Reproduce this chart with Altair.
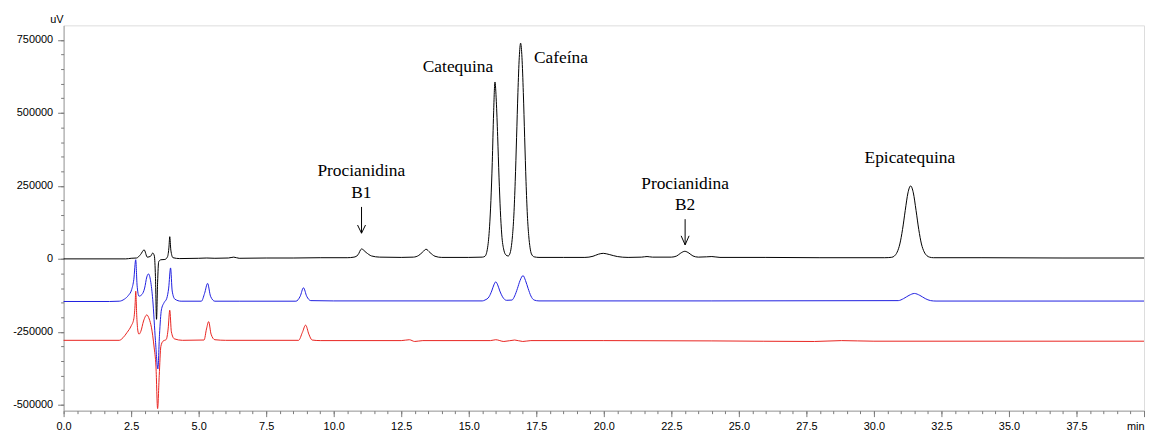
import altair as alt
import pandas as pd

# ---- traces (time in min, signal in uV) ----
BLACK_T = [0, 2.3, 2.5, 2.7, 2.85, 2.98, 3.1, 3.22, 3.3, 3.36, 3.40, 3.44, 3.48, 3.52, 3.6, 3.75, 3.85, 3.9, 3.93, 3.97, 4.05, 4.3,
           5.0, 5.3, 5.6, 6.1, 6.3, 6.5, 7.5, 8.5, 9.5, 10.5, 10.75, 10.9, 11.03, 11.2, 11.4, 11.7, 12.5,
           12.95, 13.15, 13.3, 13.42, 13.56, 13.75, 14.0, 15.0, 15.5,
           15.6, 15.7, 15.77, 15.82, 15.87, 15.92, 15.97, 16.02, 16.07, 16.12, 16.17, 16.22, 16.3, 16.38, 16.46,
           16.52, 16.57, 16.62, 16.67, 16.72, 16.77, 16.82, 16.87, 16.92, 16.97, 17.02, 17.07, 17.12, 17.17,
           17.22, 17.27, 17.32, 17.42, 17.6, 18.5, 19.3, 19.6, 19.8, 19.98, 20.2, 20.5, 20.9, 21.4, 21.6, 21.8,
           22.5, 22.7, 22.85, 23.0, 23.15, 23.3, 23.5, 23.8, 24.0, 24.3, 26.0, 28.0, 30.4,
           30.66, 30.76, 30.86, 30.96, 31.06, 31.16, 31.26, 31.36, 31.46, 31.56, 31.66, 31.76, 31.86, 31.96,
           32.06, 32.2, 34.0, 37.0, 40.0]
BLACK_V = [0, 0, 2000, 3000, 15000, 31000, 6000, 9000, 20000, 10000, -60000, -207000, -80000, -10000, -3000, -2000, 8000, 40000, 76000, 30000, 4000, 1000,
           2000, 3000, 2000, 3000, 6000, 2000, 3000, 3000, 4000, 4000, 6000, 14000, 34000, 22000, 10000, 6000, 5000,
           6000, 12000, 24000, 33000, 22000, 9000, 5000, 5000, 6000,
           9000, 40000, 110000, 200000, 330000, 500000, 606000, 540000, 420000, 280000, 165000, 85000, 30000, 13000, 10000,
           17000, 38000, 80000, 150000, 265000, 415000, 570000, 690000, 739000, 690000, 570000, 415000, 265000, 150000,
           80000, 38000, 17000, 7000, 5000, 5000, 5000, 9000, 16000, 19000, 15000, 8000, 5000, 6000, 8000, 6000,
           6000, 10000, 20000, 26000, 20000, 10000, 6000, 7000, 8000, 5000, 5000, 4000, 4000,
           5500, 10000, 23000, 51000, 101000, 166000, 226000, 250000, 226000, 166000, 101000, 51000, 24000, 11000,
           6000, 4000, 4000, 3000, 3000]

BLUE_T = [0, 1.7, 2.06, 2.25, 2.4, 2.52, 2.6, 2.67, 2.72, 2.79, 2.9, 3.0, 3.08, 3.14, 3.22, 3.3, 3.4, 3.49, 3.55, 3.62,
          3.72, 3.82, 3.89, 3.96, 4.02, 4.12, 4.35, 5.1, 5.22, 5.33, 5.44, 5.6, 6.5, 8.6, 8.76, 8.88, 9.0, 9.15,
          10.0, 15.5, 15.6, 15.75, 15.85, 15.93, 16.0, 16.07, 16.15, 16.25, 16.4, 16.6, 16.7, 16.8, 16.9, 17.01,
          17.1, 17.2, 17.3, 17.42, 17.6, 24.0, 30.9, 31.1, 31.3, 31.5, 31.7, 31.9, 32.1, 32.3, 40.0]
BLUE_V = [-146000, -146000, -145000, -138000, -125000, -105000, -70000, -3000, -90000, -127700, -122000, -100000, -62000, -51500, -75000, -140000, -280000, -377000, -260000, -175000,
          -150000, -135000, -100000, -31000, -110000, -138000, -145000, -145000, -118000, -84000, -128000, -145000, -145000, -145000, -128000, -99000, -128000, -143000,
          -144000, -144000, -141000, -130000, -110000, -89000, -78700, -89000, -110000, -130000, -142000, -141000, -127000, -102000, -74000, -57300,
          -74000, -102000, -127000, -141000, -144000, -144000, -143000, -136000, -125000, -118500, -125000, -136000, -143000, -144500, -144500]

RED_T = [0, 2.06, 2.2, 2.35, 2.5, 2.6, 2.65, 2.67, 2.71, 2.75, 2.79, 2.86, 2.96, 3.08, 3.17, 3.25, 3.35, 3.42, 3.48, 3.54,
         3.6, 3.68, 3.8, 3.87, 3.93, 3.99, 4.1, 4.4, 5.2, 5.29, 5.37, 5.46, 5.6, 6.0, 8.7, 8.84, 8.96, 9.08, 9.2,
         9.5, 12.5, 12.8, 13.0, 13.3, 15.8, 16.0, 16.3, 16.7, 17.0, 17.3, 20.0, 24.0, 27.8, 28.8, 30.0, 40.0]
RED_V = [-279000, -279000, -270000, -252000, -230000, -205000, -150000, -110700, -200000, -247000, -258000, -248000, -212800, -192000, -206000, -234000, -302000, -370000, -513000, -400000,
         -300000, -282000, -276000, -240000, -176000, -250000, -274000, -279000, -278000, -240000, -215000, -258000, -277000, -279000, -279000, -252000, -227000, -258000, -278000,
         -280000, -280000, -277000, -283000, -280000, -280000, -277000, -283000, -278000, -283000, -280000, -280000, -281000, -283000, -280000, -282000, -282000]

# ---- annotations ----
LABEL_TEXT = ["Catequina", "Cafeína", "Procianidina", "B1", "Procianidina", "B2", "Epicatequina"]
LABEL_T = [14.6, 18.41, 11.02, 11.02, 23.01, 23.01, 31.33]
LABEL_V = [641000, 672000, 283000, 209000, 241000, 167000, 328000]

ARROW_T = [11.03, 23.01]
ARROW_TOP = [178000, 136000]
ARROW_TIP = [88000, 48000]
ARROW_WING = [116000, 79000]
WING_DT = 0.147

# ---- axis ticks ----
X_MAJOR = [i * 2.5 for i in range(0, 17)]
X_MINOR = [i * 0.5 for i in range(0, 81)]
Y_MAJOR = [-500000, -250000, 0, 250000, 500000, 750000]
Y_MINOR = [-500000 + i * 50000 for i in range(0, 26)]

FRAME = "#a0a0a0"
TICK = "#7a7a7a"
FONT = "Liberation Sans"

traces = pd.concat([
    pd.DataFrame({"t": RED_T, "v": RED_V, "s": "red"}),
    pd.DataFrame({"t": BLUE_T, "v": BLUE_V, "s": "blue"}),
    pd.DataFrame({"t": BLACK_T, "v": BLACK_V, "s": "black"}),
])

XDOM = [0, 40]
YDOM = [-520000, 800000]
xscale = alt.Scale(domain=XDOM, nice=False, zero=False)
yscale = alt.Scale(domain=YDOM, nice=False, zero=False)

xaxis = alt.Axis(
    values=X_MAJOR, title=None, grid=False,
    labelExpr="datum.value === 40 ? 'min' : format(datum.value, '.1f')",
    labelAlign={"condition": {"test": "datum.value === 40", "value": "right"}, "value": "center"},
    tickSize=6, tickColor=TICK, domainColor=FRAME, labelFont=FONT, labelFontSize=11,
    labelColor="#000000", labelPadding=4, labelFlush=False, labelOverlap=False,
)
yaxis = alt.Axis(
    values=Y_MAJOR, title="uV", grid=False,
    labelExpr="datum.value < 0 ? '-' + format(-datum.value, 'd') : format(datum.value, 'd')",
    tickSize=6, tickColor=TICK, domainColor=FRAME, labelFont=FONT, labelFontSize=11,
    labelColor="#000000", labelPadding=5, labelOverlap=False, labelFlush=False,
    titleAngle=0, titleAlign="left", titleBaseline="alphabetic", titleX=-14, titleY=-3,
    titleFont=FONT, titleFontSize=11, titleFontWeight="normal", titleColor="#000000",
)


def trace(color_name, color):
    return alt.Chart(traces[traces.s == color_name]).mark_line(
        color=color, strokeWidth=1, interpolate="monotone"
    ).encode(
        x=alt.X("t:Q", scale=xscale, axis=xaxis),
        y=alt.Y("v:Q", scale=yscale, axis=yaxis),
        order="t:Q",
    )


labels = alt.Chart(pd.DataFrame({"txt": LABEL_TEXT, "t": LABEL_T, "v": LABEL_V})).mark_text(
    font="Liberation Serif", fontSize=17.5, color="#000000", baseline="alphabetic", align="center"
).encode(x=alt.X("t:Q", scale=xscale, axis=xaxis), y=alt.Y("v:Q", scale=yscale, axis=yaxis), text="txt:N")

shaft = pd.DataFrame({"t": ARROW_T, "t2": ARROW_T, "v": ARROW_TOP, "v2": ARROW_TIP})
wl = pd.DataFrame({"t": [t - WING_DT for t in ARROW_T], "t2": ARROW_T, "v": ARROW_WING, "v2": ARROW_TIP})
wr = pd.DataFrame({"t": [t + WING_DT for t in ARROW_T], "t2": ARROW_T, "v": ARROW_WING, "v2": ARROW_TIP})
arrows = alt.Chart(pd.concat([shaft, wl, wr])).mark_rule(color="#000000", strokeWidth=1).encode(
    x=alt.X("t:Q", scale=xscale, axis=xaxis), x2="t2:Q",
    y=alt.Y("v:Q", scale=yscale, axis=yaxis), y2="v2:Q",
)

main = alt.layer(trace("red", "#e8231f"), trace("blue", "#1f1fe0"), trace("black", "#000000"), labels, arrows)

# minor ticks: a second, invisible layer carrying only tick marks
minor_df = pd.DataFrame({"t": XDOM, "v": YDOM})
minor = alt.Chart(minor_df).mark_point(opacity=0).encode(
    x=alt.X("t:Q", scale=alt.Scale(domain=XDOM, nice=False, zero=False),
            axis=alt.Axis(values=X_MINOR, labels=False, domain=False, grid=False, tickSize=3,
                          tickColor=TICK, title=None, orient="bottom")),
    y=alt.Y("v:Q", scale=alt.Scale(domain=YDOM, nice=False, zero=False),
            axis=alt.Axis(values=Y_MINOR, labels=False, domain=False, grid=False, tickSize=3,
                          tickColor=TICK, title=None, orient="left")),
)

chart = alt.layer(main, minor).resolve_scale(x="independent", y="independent").resolve_axis(
    x="independent", y="independent"
).properties(
    width=1088, height=388,
    padding={"left": 56, "top": 16, "right": 2, "bottom": 20},
    autosize=alt.AutoSizeParams(type="none"),
).configure_view(stroke=FRAME, strokeWidth=1).configure(background="#ffffff")

chart.save("out.html", embed_options={"renderer": "svg", "actions": False})
